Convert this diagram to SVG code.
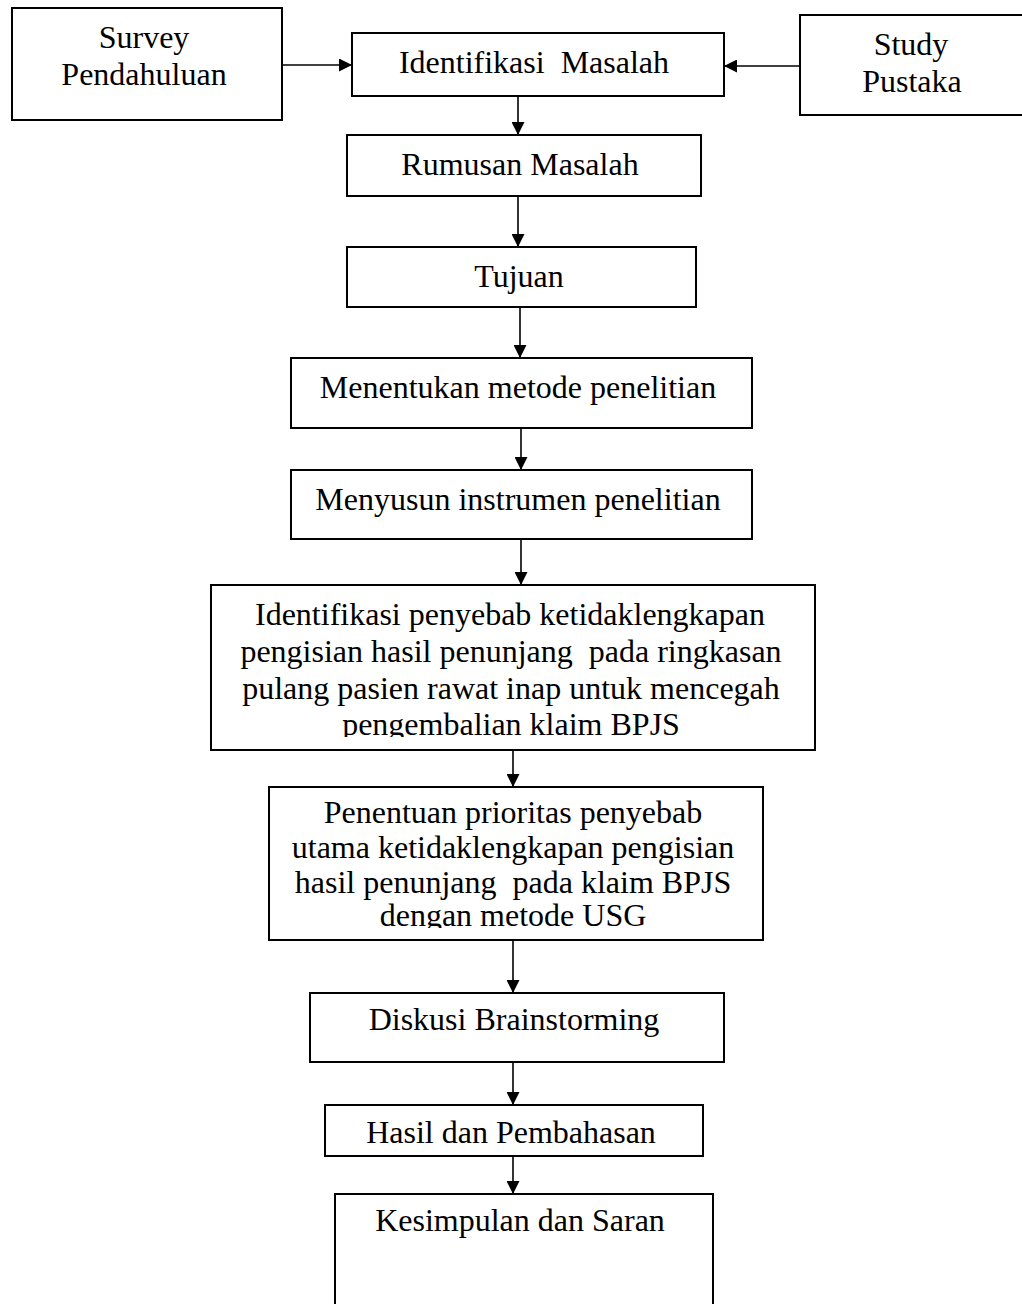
<svg xmlns="http://www.w3.org/2000/svg" width="1022" height="1304" viewBox="0 0 1022 1304">
<style>
.box{fill:#fff;stroke:#000;stroke-width:2}
.t{font-family:"Liberation Serif","Times New Roman",serif;font-size:32px;fill:#000;text-anchor:middle}
.c{stroke:#000;stroke-width:1.6;fill:none;marker-end:url(#ah)}
</style>
<defs>
<marker id="ah" markerUnits="userSpaceOnUse" markerWidth="13" markerHeight="13" refX="13" refY="6.5" orient="auto">
<path d="M0,0 L13,6.5 L0,13 z" fill="#000"/>
</marker>
<clipPath id="clipBig"><rect x="211" y="586" width="604" height="151"/></clipPath>
<clipPath id="clipPen"><rect x="269" y="788" width="494" height="140"/></clipPath>
</defs>
<rect width="1022" height="1304" fill="#fff"/>
<g id="connectors">
<line class="c" x1="282" y1="65" x2="352" y2="65"/>
<line class="c" x1="800" y1="66" x2="724" y2="66"/>
<line class="c" x1="518" y1="96" x2="518" y2="135"/>
<line class="c" x1="518" y1="196" x2="518" y2="247"/>
<line class="c" x1="520" y1="307" x2="520" y2="358"/>
<line class="c" x1="521" y1="428" x2="521" y2="470"/>
<line class="c" x1="521" y1="539" x2="521" y2="585"/>
<line class="c" x1="513" y1="750" x2="513" y2="787"/>
<line class="c" x1="513" y1="940" x2="513" y2="993"/>
<line class="c" x1="513" y1="1062" x2="513" y2="1105"/>
<line class="c" x1="513" y1="1156" x2="513" y2="1194"/>
</g>
<g id="survey">
<rect class="box" x="12" y="8" width="270" height="112"/>
<text class="t" x="144" y="48">Survey</text>
<text class="t" x="144" y="85">Pendahuluan</text>
</g>
<g id="identifikasi-masalah">
<rect class="box" x="352" y="33" width="372" height="63"/>
<text class="t" x="534" y="73" xml:space="preserve">Identifikasi  Masalah</text>
</g>
<g id="study">
<rect class="box" x="800" y="15" width="232" height="100"/>
<text class="t" x="911" y="55">Study</text>
<text class="t" x="912" y="92">Pustaka</text>
</g>
<g id="rumusan">
<rect class="box" x="347" y="135" width="354" height="61"/>
<text class="t" x="520" y="175">Rumusan Masalah</text>
</g>
<g id="tujuan">
<rect class="box" x="347" y="247" width="349" height="60"/>
<text class="t" x="519" y="287">Tujuan</text>
</g>
<g id="menentukan">
<rect class="box" x="291" y="358" width="461" height="70"/>
<text class="t" x="518" y="398">Menentukan metode penelitian</text>
</g>
<g id="menyusun">
<rect class="box" x="291" y="470" width="461" height="69"/>
<text class="t" x="518" y="510">Menyusun instrumen penelitian</text>
</g>
<g id="identifikasi-penyebab">
<rect class="box" x="211" y="585" width="604" height="165"/>
<g clip-path="url(#clipBig)">
<text class="t" x="510" y="625">Identifikasi penyebab ketidaklengkapan</text>
<text class="t" x="511" y="662" xml:space="preserve">pengisian hasil penunjang  pada ringkasan</text>
<text class="t" x="511" y="699">pulang pasien rawat inap untuk mencegah</text>
<text class="t" x="511" y="735">pengembalian klaim BPJS</text>
</g>
</g>
<g id="penentuan">
<rect class="box" x="269" y="787" width="494" height="153"/>
<g clip-path="url(#clipPen)">
<text class="t" x="513" y="823">Penentuan prioritas penyebab</text>
<text class="t" x="513" y="858">utama ketidaklengkapan pengisian</text>
<text class="t" x="513" y="893" xml:space="preserve">hasil penunjang  pada klaim BPJS</text>
<text class="t" x="513" y="926">dengan metode USG</text>
</g>
</g>
<g id="diskusi">
<rect class="box" x="310" y="993" width="414" height="69"/>
<text class="t" x="514" y="1030">Diskusi Brainstorming</text>
</g>
<g id="hasil">
<rect class="box" x="325" y="1105" width="378" height="51"/>
<text class="t" x="511" y="1143">Hasil dan Pembahasan</text>
</g>
<g id="kesimpulan">
<rect class="box" x="335" y="1194" width="378" height="120"/>
<text class="t" x="520" y="1231">Kesimpulan dan Saran</text>
</g>
</svg>
